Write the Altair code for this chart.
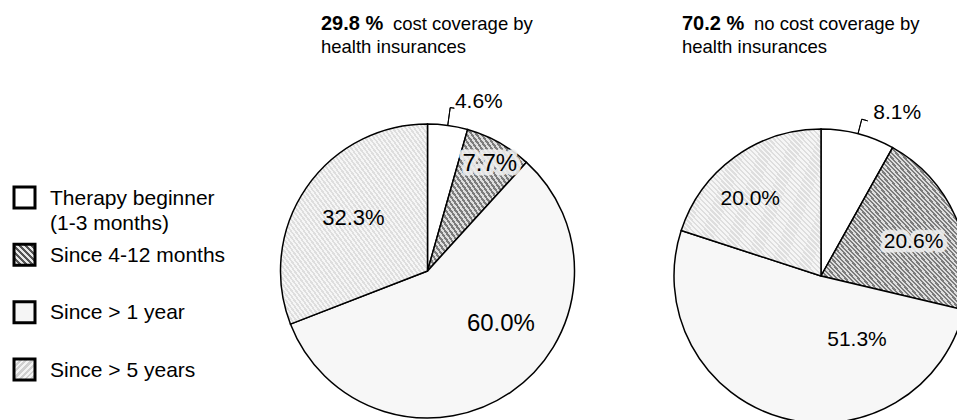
import math

import altair as alt
import pandas as pd

# ---------------------------------------------------------------- data
CATEGORIES = ["Therapy beginner", "Since 4-12 months", "Since > 1 year", "Since > 5 years"]
LEGEND_LABELS = ["Therapy beginner\n(1-3 months)", "Since 4-12 months", "Since > 1 year", "Since > 5 years"]

PIES = ["covered", "uncovered"]
PIE_SHARE = [29.8, 70.2]
PIE_CAPTION = ["cost coverage by", "no cost coverage by"]
PIE_CAPTION_2 = ["health insurances", "health insurances"]

COVERED_VALUES = [4.6, 7.7, 60.0, 32.3]
UNCOVERED_VALUES = [8.1, 20.6, 51.3, 20.0]

FONT = "Liberation Sans"

rows = []
for pie, values in zip(PIES, [COVERED_VALUES, UNCOVERED_VALUES]):
    for i, (cat, val) in enumerate(zip(CATEGORIES, values)):
        rows.append({"pie": pie, "cat": cat, "order": i, "value": val})
slices_df = pd.DataFrame(rows)


# ---------------------------------------------------------------- fills
def hatch(n, ink, paper, rising=False, duty=0.5):
    """Striped fill built from a hard-stop linear gradient."""
    stops = []
    for i in range(n):
        a, b, c = i / n, (i + duty) / n, (i + 1) / n
        stops += [
            {"offset": round(a, 5), "color": ink},
            {"offset": round(b, 5), "color": ink},
            {"offset": round(b, 5), "color": paper},
            {"offset": round(c, 5), "color": paper},
        ]
    if rising:
        x1, y1, x2, y2 = 0, 0, 1, 1
    else:
        x1, y1, x2, y2 = 0, 1, 1, 0
    return {"gradient": "linear", "x1": x1, "y1": y1, "x2": x2, "y2": y2, "stops": stops}


def fill_for(fills):
    conds = [
        {"test": f"datum.cat === '{c}'", "value": f}
        for c, f in zip(CATEGORIES[:-1], fills[:-1])
    ]
    return alt.FillValue(value=fills[-1], condition=conds)


DARK_INK, DARK_PAPER = "#7c7c7c", "#dedede"
LIGHT_INK, LIGHT_PAPER = "#dedede", "#f6f6f6"
PLAIN = "#f7f7f7"

COVERED_FILLS = ["#ffffff", hatch(40, DARK_INK, DARK_PAPER), PLAIN, hatch(68, LIGHT_INK, LIGHT_PAPER)]
UNCOVERED_FILLS = ["#ffffff", hatch(68, DARK_INK, DARK_PAPER), PLAIN, hatch(58, LIGHT_INK, LIGHT_PAPER)]
LEGEND_FILLS = ["#ffffff", hatch(7, "#555555", "#e8e8e8"), "#f5f5f5",
                hatch(7, "#cfcfcf", "#f3f3f3", rising=True)]

RADIUS = 147
THETA_SCALE = alt.Scale(domain=[0, 1], range=[0, 2 * math.pi])

# label placement per slice: radius, nudges, size, alignment, halo
COVERED_LABELS = {
    "Therapy beginner": dict(r=170, dx=4, dy=-1, size=21, align="left", halo=False),
    "Since 4-12 months": dict(r=122, dx=3, dy=0, size=24, align="center", halo=True),
    "Since > 1 year": dict(r=91, dx=22, dy=-22, size=24, align="center", halo=False),
    "Since > 5 years": dict(r=91, dx=1, dy=-2, size=22, align="center", halo=False),
}
UNCOVERED_LABELS = {
    "Therapy beginner": dict(r=168, dx=10, dy=0, size=21, align="left", halo=False),
    "Since 4-12 months": dict(r=100, dx=1, dy=6, size=21, align="center", halo=True),
    "Since > 1 year": dict(r=100, dx=63, dy=-32, size=21, align="center", halo=False),
    "Since > 5 years": dict(r=100, dx=-12, dy=4, size=21, align="center", halo=False),
}


def title_layers(i, tx):
    tdf = pd.DataFrame({"share": [PIE_SHARE[i]], "caption": [PIE_CAPTION[i]],
                        "caption2": [PIE_CAPTION_2[i]]})
    base = alt.Chart(tdf).transform_calculate(share_label="format(datum.share, '.1f') + ' %'")
    bold = base.mark_text(align="left", baseline="alphabetic", fontSize=20, fontWeight="bold",
                          font=FONT, color="black").encode(
        x=alt.value(tx), y=alt.value(30), text="share_label:N")
    cap = base.mark_text(align="left", baseline="alphabetic", fontSize=18.5, font=FONT,
                         color="black").encode(
        x=alt.value(tx + 72), y=alt.value(30), text="caption:N")
    cap2 = base.mark_text(align="left", baseline="alphabetic", fontSize=18.5, font=FONT,
                          color="black").encode(
        x=alt.value(tx), y=alt.value(53), text="caption2:N")
    return [bold, cap, cap2]


def pie_view(i, fills, labels, width, title_x, shift, drop, leader_r, tick):
    """One pie column: caption on top, pie moved by (shift, drop) pixels from the view centre."""
    key = PIES[i]
    base = (
        alt.Chart(slices_df)
        .transform_filter(alt.datum.pie == key)
        .transform_joinaggregate(total="sum(value)")
        .transform_window(cum="sum(value)", sort=[alt.SortField("order", order="ascending")], frame=[None, 0])
        .transform_calculate(
            start="(datum.cum - datum.value) / datum.total",
            end="datum.cum / datum.total",
            mid="(datum.cum - datum.value / 2) / datum.total",
            label="format(datum.value, '.1f') + '%'",
        )
    )
    off = dict(xOffset=shift, yOffset=drop)
    layers = [
        base.mark_arc(radius=RADIUS, stroke="black", strokeWidth=1.5, clip=True, **off).encode(
            theta=alt.Theta("start:Q", scale=THETA_SCALE),
            theta2=alt.Theta2("end"),
            fill=fill_for(fills),
        )
    ]
    first = base.transform_filter(alt.datum.cat == CATEGORIES[0])
    # callout line for the thin top slice
    layers.append(
        first.mark_arc(radius=leader_r, radius2=RADIUS, fillOpacity=0, stroke="black",
                       strokeWidth=1, **off).encode(
            theta=alt.Theta("mid:Q", scale=THETA_SCALE), theta2=alt.Theta2("mid")
        )
    )
    layers.append(
        first.transform_calculate(mid2=f"datum.mid + {tick}")
        .mark_arc(radius=leader_r, radius2=leader_r, fillOpacity=0, stroke="black",
                  strokeWidth=1, **off)
        .encode(theta=alt.Theta("mid:Q", scale=THETA_SCALE), theta2=alt.Theta2("mid2"))
    )
    for cat, st in labels.items():
        sel = base.transform_filter(alt.datum.cat == cat)
        common = dict(radius=st["r"], dx=st["dx"], dy=st["dy"], fontSize=st["size"], align=st["align"],
                      baseline="middle", font=FONT, **off)
        if st["halo"]:
            layers.append(
                sel.mark_text(color="#eeeeee", stroke="#eeeeee", strokeWidth=9, strokeJoin="round",
                              opacity=0.9, **common)
                .encode(theta=alt.Theta("mid:Q", scale=THETA_SCALE), text="label:N")
            )
        layers.append(
            sel.mark_text(color="black", **common)
            .encode(theta=alt.Theta("mid:Q", scale=THETA_SCALE), text="label:N")
        )
    layers += title_layers(i, title_x)
    return alt.layer(*layers).properties(width=width, height=420)


# ---------------------------------------------------------------- legend
legend_df = pd.DataFrame({"cat": CATEGORIES, "text": LEGEND_LABELS})
legend_y = alt.Y("cat:N", scale=alt.Scale(domain=CATEGORIES, range=[197.5, 369.5], padding=0), axis=None)
legend_boxes = alt.Chart(legend_df).mark_square(
    size=441, stroke="black", strokeWidth=3, opacity=1, filled=True
).encode(x=alt.value(24.5), y=legend_y, fill=fill_for(LEGEND_FILLS))
legend_text = alt.Chart(legend_df).mark_text(
    align="left", baseline="top", dy=-10, lineBreak="\n", lineHeight=25, fontSize=21,
    font=FONT, color="black"
).encode(x=alt.value(50), y=legend_y, text="text:N")
legend = alt.layer(legend_boxes, legend_text).properties(width=180, height=420)

# ---------------------------------------------------------------- layout
covered = pie_view(0, COVERED_FILLS, COVERED_LABELS, 493, title_x=141, shift=1, drop=61,
                   leader_r=165, tick=0.004)
uncovered = pie_view(1, UNCOVERED_FILLS, UNCOVERED_LABELS, 284, title_x=9, shift=6, drop=66,
                     leader_r=162, tick=0.006)

chart = (
    alt.hconcat(legend, covered, uncovered, spacing=0, bounds="flush")
    .properties(padding=0)
    .configure_view(strokeWidth=0)
)

chart.save("out.html", embed_options={"renderer": "svg", "actions": False})
